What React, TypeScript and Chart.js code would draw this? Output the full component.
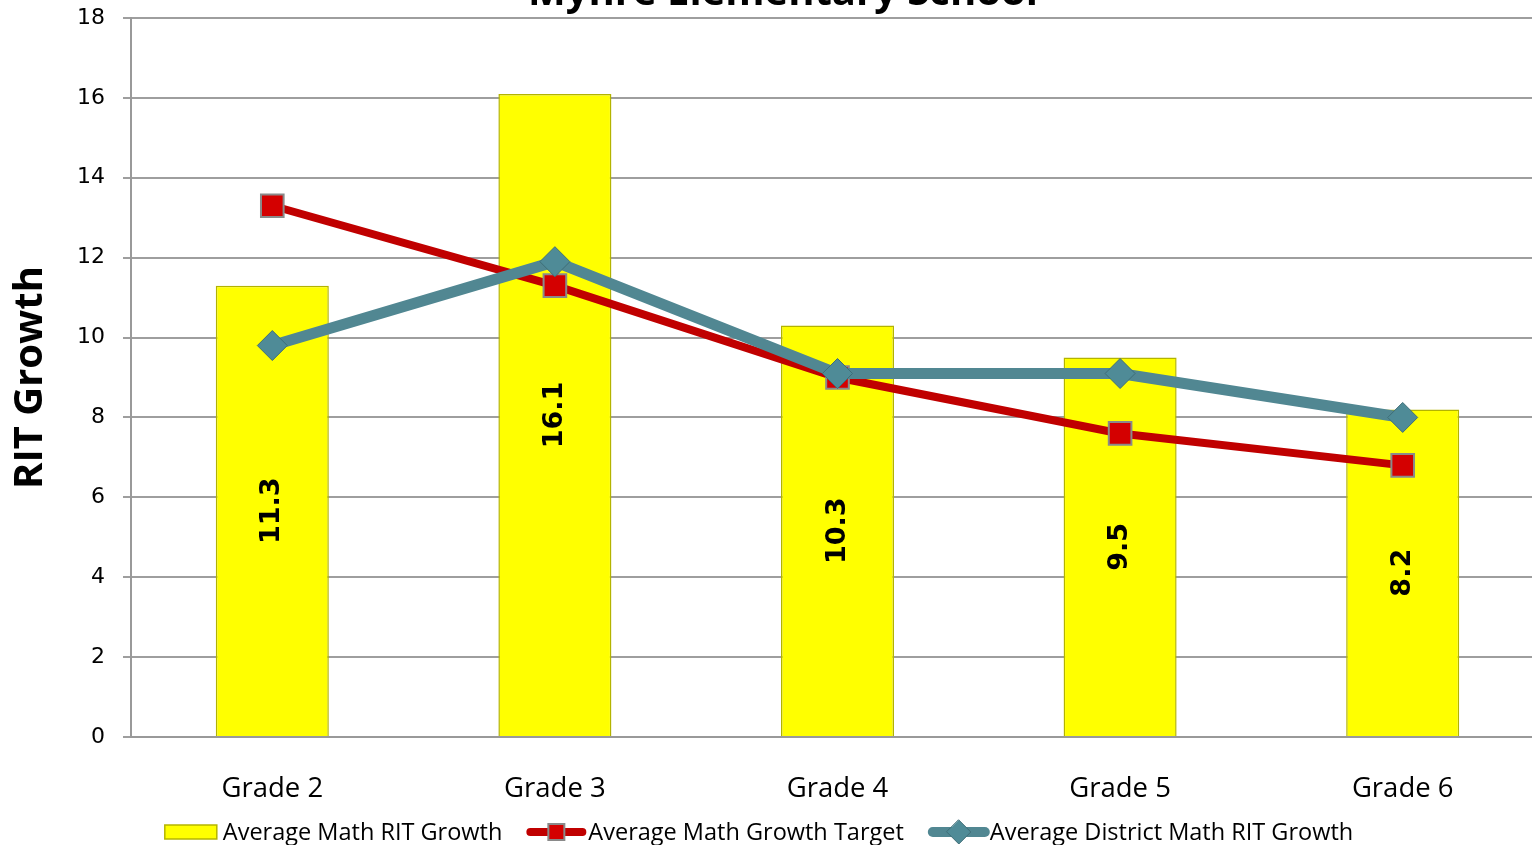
import React, { useEffect, useRef } from "react";
import { Chart, registerables } from "chart.js";

Chart.register(...registerables);

const categories = ["Grade 2", "Grade 3", "Grade 4", "Grade 5", "Grade 6"];
const schoolGrowth = [11.3, 16.1, 10.3, 9.5, 8.2];
const growthTarget = [13.3, 11.3, 9.0, 7.6, 6.8];
const districtGrowth = [9.8, 11.9, 9.1, 9.1, 8.0];
const seriesNames = [
  "Average Math RIT Growth",
  "Average Math Growth Target",
  "Average District Math RIT Growth",
];
const chartTitle = "Myhre Elementary School";
const yTitle = "RIT Growth";

const YELLOW = "#FFFF00";
const RED = "#C00000";
const TEAL = "#518792";

const LEGEND_FONT = "23.5px 'Open Sans'";
const LEGEND_CENTER_X = 759;
const LEGEND_Y = 832;

function drawLegendSymbol(g: CanvasRenderingContext2D, kind: number, x: number, y: number): number {
  if (kind === 0) {
    g.fillStyle = YELLOW;
    g.fillRect(x, y - 7, 52, 14);
    g.strokeStyle = "#B5B500";
    g.lineWidth = 1.5;
    g.strokeRect(x, y - 7, 52, 14);
    return 52 + 6;
  } else if (kind === 1) {
    g.strokeStyle = RED;
    g.lineWidth = 8;
    g.lineCap = "round";
    g.beginPath();
    g.moveTo(x + 4, y);
    g.lineTo(x + 56, y);
    g.stroke();
    g.fillStyle = "#D40000";
    g.fillRect(x + 22, y - 8, 16, 16);
    g.strokeStyle = "#8A8A8A";
    g.lineWidth = 2;
    g.strokeRect(x + 22, y - 8, 16, 16);
    return 60 + 2;
  } else {
    g.strokeStyle = TEAL;
    g.lineWidth = 10;
    g.lineCap = "round";
    g.beginPath();
    g.moveTo(x + 5, y);
    g.lineTo(x + 57, y);
    g.stroke();
    g.fillStyle = "#4F8B97";
    g.strokeStyle = "#3F6E78";
    g.lineWidth = 1;
    g.beginPath();
    g.moveTo(x + 31, y - 12);
    g.lineTo(x + 43, y);
    g.lineTo(x + 31, y + 12);
    g.lineTo(x + 19, y);
    g.closePath();
    g.fill();
    g.stroke();
    return 62;
  }
}

const symbolWidths = [58, 62, 62];

const legendPlugin = {
  id: "customLegend",
  afterDraw(chart: any) {
    const ctx = chart.ctx;
    ctx.save();
    ctx.font = LEGEND_FONT;
    const gap = 24;
    const widths = seriesNames.map((n, i) => symbolWidths[i] + ctx.measureText(n).width);
    const total = widths.reduce((a, b) => a + b, 0) + gap * (seriesNames.length - 1);
    let x = LEGEND_CENTER_X - total / 2;
    seriesNames.forEach((n, i) => {
      const sw = drawLegendSymbol(ctx, i, x, LEGEND_Y);
      ctx.font = LEGEND_FONT;
      ctx.fillStyle = "#000";
      ctx.textAlign = "left";
      ctx.textBaseline = "middle";
      ctx.fillText(n, x + sw, LEGEND_Y + 1);
      x += widths[i] + gap;
    });
    ctx.restore();
  },
};

const titlePlugin = {
  id: "cutTitle",
  afterDraw(chart: any) {
    const ctx = chart.ctx;
    ctx.save();
    ctx.font = "bold 40px 'Open Sans'";
    ctx.fillStyle = "#000";
    ctx.textAlign = "center";
    ctx.textBaseline = "alphabetic";
    ctx.fillText(chartTitle, 783, 5);
    ctx.restore();
  },
};

const barLabelPlugin = {
  id: "barLabels",
  afterDatasetDraw(chart: any, args: any) {
    if (args.index !== 0) return;
    const ctx = chart.ctx;
    const meta = chart.getDatasetMeta(0);
    ctx.save();
    ctx.font = "bold 27px 'DejaVu Sans'";
    ctx.fillStyle = "#000";
    ctx.textAlign = "center";
    ctx.textBaseline = "middle";
    meta.data.forEach((el: any, i: number) => {
      const cy = (el.y + el.base) / 2;
      ctx.save();
      ctx.translate(el.x, cy);
      ctx.rotate(-Math.PI / 2);
      ctx.fillText(schoolGrowth[i].toFixed(1), 0, 0);
      ctx.restore();
    });
    ctx.restore();
  },
};

function zeroPad(scale: any) {
  scale.paddingTop = 0;
  scale.paddingBottom = 0;
  scale.paddingLeft = 0;
  scale.paddingRight = 0;
}

export default function App() {
  const ref = useRef<HTMLCanvasElement>(null);

  useEffect(() => {
    const chart = new Chart(ref.current!, {
      type: "bar",
      data: {
        labels: categories,
        datasets: [
          {
            type: "bar",
            label: seriesNames[0],
            data: schoolGrowth,
            backgroundColor: YELLOW,
            borderColor: "#B3B300",
            borderWidth: 1.5,
            barPercentage: 0.4,
            categoryPercentage: 1,
            order: 3,
          } as any,
          {
            type: "line",
            label: seriesNames[1],
            data: growthTarget,
            borderColor: RED,
            borderWidth: 8,
            backgroundColor: "#D40000",
            pointStyle: "rect",
            pointRadius: 16,
            pointBorderColor: "#8A8A8A",
            pointBorderWidth: 2,
            pointBackgroundColor: "#D40000",
            order: 2,
          } as any,
          {
            type: "line",
            label: seriesNames[2],
            data: districtGrowth,
            borderColor: TEAL,
            borderWidth: 11,
            pointStyle: "rectRot",
            pointRadius: 15,
            pointBackgroundColor: "#4F8B97",
            pointBorderColor: "#3F6E78",
            pointBorderWidth: 1,
            order: 1,
          } as any,
        ],
      },
      options: {
        animation: false,
        responsive: false,
        maintainAspectRatio: false,
        layout: { padding: { top: 18, left: 0, right: 0, bottom: 30 } },
        plugins: {
          title: { display: false },
          tooltip: { enabled: false },
          legend: { display: false },
        },
        scales: {
          x: {
            grid: { display: false },
            border: { display: true, color: "#999", width: 2 },
            ticks: {
              font: { family: "'Open Sans'", size: 27.5 },
              color: "#000",
              padding: 28,
            },
            afterFit(scale: any) {
              scale.height = 78;
              zeroPad(scale);
            },
          },
          y: {
            min: 0,
            max: 18,
            ticks: {
              stepSize: 2,
              font: { family: "'DejaVu Sans'", size: 22 },
              color: "#000",
              padding: 18,
            },
            grid: { color: "#9E9E9E", lineWidth: 2, tickLength: 8, drawTicks: true },
            border: { display: true, color: "#999", width: 2 },
            title: {
              display: true,
              text: yTitle,
              font: { family: "'Open Sans'", size: 40, weight: "bold" },
              color: "#000",
              padding: { top: 7, bottom: 0 },
            },
            afterFit(scale: any) {
              scale.width = 131;
              zeroPad(scale);
            },
          },
        },
      },
      plugins: [titlePlugin, barLabelPlugin, legendPlugin],
    });
    return () => chart.destroy();
  }, []);

  return (
    <div
      style={{
        position: "fixed",
        left: 0,
        top: 0,
        width: 1532,
        height: 845,
        overflow: "hidden",
        background: "#fff",
      }}
    >
      <canvas ref={ref} width={1562} height={845} style={{ display: "block", width: 1562, height: 845 }} />
    </div>
  );
}
